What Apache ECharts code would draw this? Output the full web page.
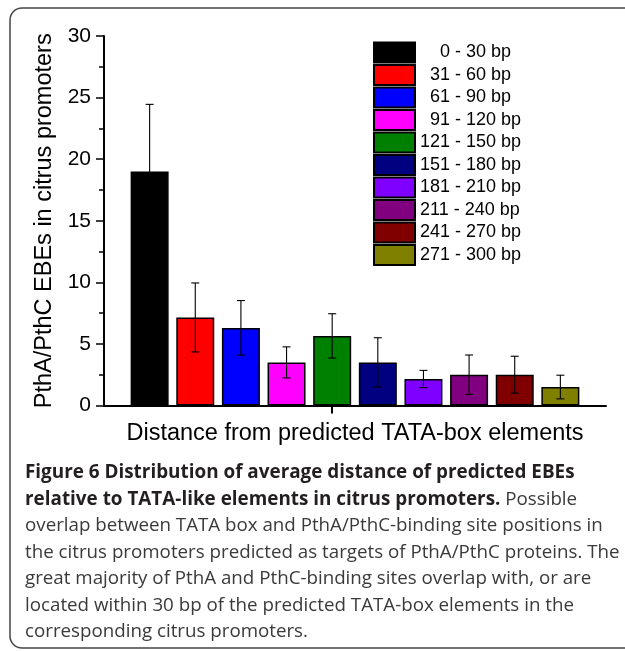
<!DOCTYPE html>
<html>
<head>
<meta charset="utf-8">
<script src="https://cdn.jsdelivr.net/npm/echarts@6/dist/echarts.min.js"></script>
<style>
html,body{margin:0;padding:0;background:#fff;}
#chart{width:625px;height:651px;}
</style>
</head>
<body>
<div id="chart"></div>
<script>
// ---- data ----
const rangeLabels = ['0 - 30 bp','31 - 60 bp','61 - 90 bp','91 - 120 bp','121 - 150 bp','151 - 180 bp','181 - 210 bp','211 - 240 bp','241 - 270 bp','271 - 300 bp'];
const means  = [19.0, 7.15, 6.3, 3.5, 5.65, 3.5, 2.15, 2.5, 2.5, 1.5];
const errors = [5.45, 2.8, 2.22, 1.26, 1.8, 2.0, 0.7, 1.6, 1.5, 0.96];
const barColors = ['#000000','#ff0000','#0000ff','#ff00ff','#008000','#000080','#8000ff','#800080','#800000','#808000'];
const axisCategories = [''].concat(rangeLabels).concat(['']);
const yTitle = 'PthA/PthC EBEs in citrus promoters';
const xTitle = 'Distance from predicted TATA-box elements';
const captionLines = [
  '{b|Figure 6 Distribution of average distance of predicted EBEs}',
  '{b|relative to TATA-like elements in citrus promoters.} Possible',
  'overlap between TATA box and PthA/PthC-binding site positions in',
  'the citrus promoters predicted as targets of PthA/PthC proteins. The',
  'great majority of PthA and PthC-binding sites overlap with, or are',
  'located within 30 bp of the predicted TATA-box elements in the',
  'corresponding citrus promoters.'
];

// ---- caption font fitting ----
const capFont = '"Open Sans", "Noto Sans", sans-serif';
const cv = document.createElement('canvas').getContext('2d');
function fitSize(text, weight, target){
  cv.font = weight + ' 100px ' + capFont;
  return 100 * target / cv.measureText(text).width;
}
const regSize = fitSize('overlap between TATA box and PthA/PthC-binding site positions in', 'normal', 578);
const boldSize = fitSize('Figure 6 Distribution of average distance of predicted EBEs', 'bold', 550);

const chart = echarts.init(document.getElementById('chart'), null, {renderer:'canvas'});

const series = rangeLabels.map((name, i) => ({
  name: name,
  type: 'bar',
  stack: 'all',
  barWidth: 38,
  itemStyle: {color: barColors[i], borderColor: '#000', borderWidth: 1.5},
  data: axisCategories.map((c, j) => j === i + 1 ? means[i] : '-'),
  animation: false
}));

series.push({
  name: 'err',
  type: 'custom',
  z: 10,
  animation: false,
  encode: {x: 0, y: [1, 2]},
  data: means.map((m, i) => [i + 1, m - errors[i], m + errors[i]]),
  renderItem: function(params, api){
    const x = api.value(0);
    const lo = api.coord([x, api.value(1)]);
    const hi = api.coord([x, api.value(2)]);
    const w = 4;
    const st = {stroke: '#000', lineWidth: 1.1};
    return {type: 'group', children: [
      {type: 'line', shape: {x1: lo[0], y1: lo[1], x2: hi[0], y2: hi[1]}, style: st},
      {type: 'line', shape: {x1: hi[0]-w, y1: hi[1], x2: hi[0]+w, y2: hi[1]}, style: st},
      {type: 'line', shape: {x1: lo[0]-w, y1: lo[1], x2: lo[0]+w, y2: lo[1]}, style: st}
    ]};
  }
});

const graphics = [{
  type: 'rect', silent: true,
  shape: {x: 10, y: 8, width: 720, height: 640, r: 12},
  style: {fill: 'none', stroke: '#444', lineWidth: 1.5}
}];
captionLines.forEach((t, i) => {
  graphics.push({
    type: 'text', silent: true,
    x: 25, y: 473 + i * 26.5,
    style: {
      text: t,
      verticalAlign: 'middle',
      fontFamily: capFont,
      fontSize: regSize,
      fill: '#3a3a3a',
      rich: {
        b: {fontFamily: capFont, fontSize: boldSize, fontWeight: 'bold', fill: '#231f20'}
      }
    }
  });
});

chart.setOption({
  backgroundColor: '#fff',
  animation: false,
  grid: {left: 104, right: 19, top: 36, bottom: 245.5, containLabel: false},
  legend: {
    orient: 'vertical',
    left: 373, top: 41.5,
    padding: 0,
    itemWidth: 41, itemHeight: 20, itemGap: 0.5,
    icon: 'rect',
    selectedMode: false,
    data: rangeLabels,
    formatter: function(name){
      const n = name.split(' ')[0].length;
      return '  '.repeat(3 - n) + name;
    },
    textStyle: {fontFamily: 'Liberation Sans, Arial, sans-serif', fontSize: 18, color: '#000'}
  },
  xAxis: {
    type: 'category',
    data: axisCategories,
    boundaryGap: false,
    name: xTitle,
    nameLocation: 'middle',
    nameGap: 16,
    nameTextStyle: {fontFamily: 'Liberation Sans, Arial, sans-serif', fontSize: 23.5, color: '#000'},
    axisLine: {lineStyle: {color: '#000', width: 2}},
    axisTick: {show: true, length: 8, interval: function(idx){ return idx === 5; }, lineStyle: {color: '#000', width: 2}},
    axisLabel: {show: false},
    splitLine: {show: false}
  },
  yAxis: {
    type: 'value',
    min: 0, max: 30, interval: 5,
    name: yTitle,
    nameLocation: 'middle',
    nameGap: 45,
    nameTextStyle: {fontFamily: 'Liberation Sans, Arial, sans-serif', fontSize: 23.5, color: '#000'},
    axisLine: {show: true, lineStyle: {color: '#000', width: 2}},
    axisTick: {show: true, length: 8, lineStyle: {color: '#000', width: 1.5}},
    minorTick: {show: true, splitNumber: 2, length: 5, lineStyle: {color: '#000', width: 1.5}},
    axisLabel: {margin: 13, fontFamily: 'Liberation Sans, Arial, sans-serif', fontSize: 21, color: '#000'},
    splitLine: {show: false}
  },
  series: series,
  graphic: graphics
});
</script>
</body>
</html>
